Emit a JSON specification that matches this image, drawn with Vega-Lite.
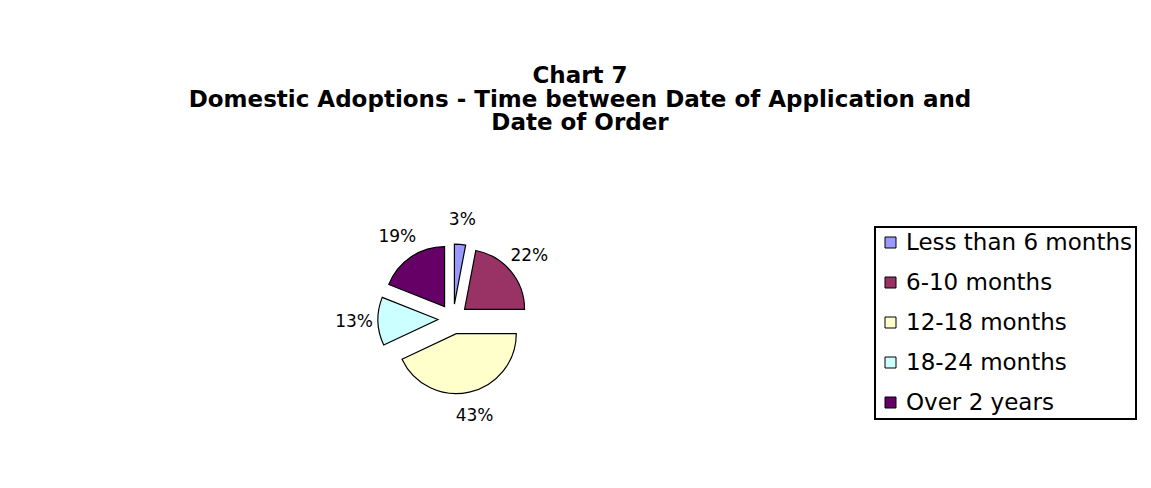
{
  "$schema": "https://vega.github.io/schema/vega-lite/v6.json",
  "autosize": "none",
  "width": 906,
  "height": 338,
  "padding": {"left": 0, "top": 150, "right": 245, "bottom": 0},
  "background": "white",
  "title": {
    "text": ["Chart 7", "Domestic Adoptions - Time between Date of Application and", "Date of Order"],
    "font": "DejaVu Sans",
    "fontSize": 23,
    "fontWeight": "bold",
    "lineHeight": 23.5,
    "color": "black",
    "anchor": "middle",
    "dx": 127,
    "offset": 15
  },
  "data": {
    "values": [
      {"category": "Less than 6 months", "pct": 0.03, "order": 1},
      {"category": "6-10 months", "pct": 0.22, "order": 2},
      {"category": "12-18 months", "pct": 0.43, "order": 3},
      {"category": "18-24 months", "pct": 0.13, "order": 4},
      {"category": "Over 2 years", "pct": 0.19, "order": 5}
    ]
  },
  "config": {
    "view": {"stroke": null},
    "legend": {"strokeWidth": 2}
  },
  "layer": [
    {
      "mark": {
        "type": "arc",
        "outerRadius": 60,
        "stroke": "black",
        "strokeWidth": 1.2,
        "xOffset": {"expr": "15*sin(PI*(datum.pct_start+datum.pct_end))"},
        "yOffset": {"expr": "-15*cos(PI*(datum.pct_start+datum.pct_end))"}
      },
      "encoding": {
        "theta": {"field": "pct", "type": "quantitative", "stack": true, "scale": {"domain": [0, 1]}},
        "order": {"field": "order", "type": "quantitative"},
        "color": {
          "field": "category",
          "type": "nominal",
          "scale": {
            "domain": ["Less than 6 months", "6-10 months", "12-18 months", "18-24 months", "Over 2 years"],
            "range": ["#9999FF", "#993366", "#FFFFCC", "#CCFFFF", "#660066"]
          },
          "legend": {
            "title": null,
            "orient": "none",
            "legendX": 875,
            "legendY": 77,
            "symbolType": "square",
            "symbolSize": 121,
            "symbolStrokeColor": "black",
            "symbolStrokeWidth": 1,
            "labelFont": "DejaVu Sans",
            "labelFontSize": 23,
            "labelColor": "black",
            "labelOffset": 4,
            "labelLimit": 400,
            "rowPadding": 16,
            "padding": 4,
            "strokeColor": "black"
          }
        }
      }
    },
    {
      "mark": {"type": "text", "radius": 99, "font": "DejaVu Sans", "fontSize": 17, "color": "black"},
      "encoding": {
        "theta": {"field": "pct", "type": "quantitative", "stack": true, "scale": {"domain": [0, 1]}},
        "order": {"field": "order", "type": "quantitative"},
        "text": {"field": "pct", "type": "quantitative", "format": ".0%"}
      }
    }
  ]
}
